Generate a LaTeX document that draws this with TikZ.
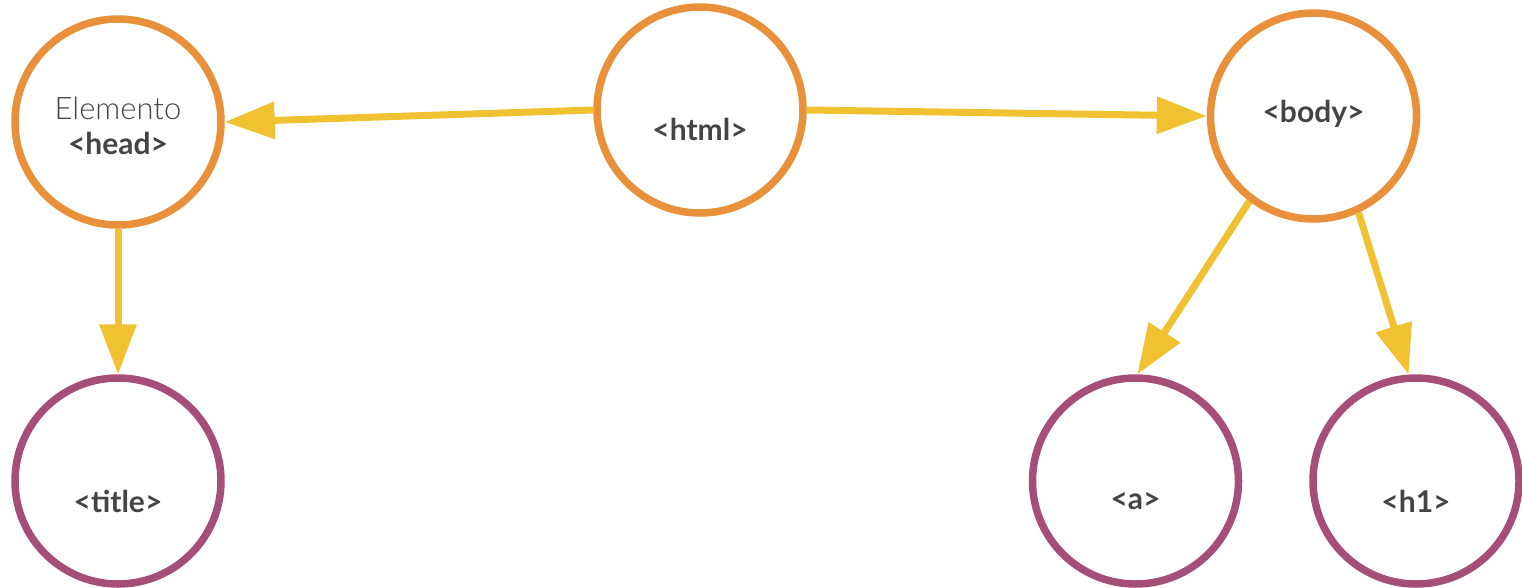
\documentclass[tikz,border=0pt]{standalone}
\usepackage{fontspec}
\setmainfont{Lato}
\newfontfamily\lightfont{Lato Light}
\usetikzlibrary{arrows.meta}
\definecolor{orangec}{HTML}{E8913A}
\definecolor{purplec}{HTML}{A54E78}
\definecolor{yellowc}{HTML}{F0C232}
\definecolor{textc}{HTML}{444444}
\begin{document}
\begin{tikzpicture}[x=1pt,y=-1pt,
  circ/.style={circle, line width=7.5pt, minimum size=206pt, inner sep=0pt},
  topc/.style={circ, draw=orangec},
  leafc/.style={circ, draw=purplec},
  lbl/.style={text=textc, inner sep=0pt, font=\fontsize{30}{34}\selectfont\bfseries},
  lbllight/.style={text=textc, inner sep=0pt, font=\fontsize{31}{34}\selectfont\lightfont},
  arr/.style={draw=yellowc, line width=7pt, -{Triangle[length=50pt,width=36pt]}}]
\useasboundingbox (0,0) rectangle (1522,587);
\node[topc] (head) at (118,122) {};
\node[topc] (html) at (700,110) {};
\node[topc] (body) at (1313.5,116) {};
\node[leafc] (title) at (118,481) {};
\node[leafc] (a) at (1135.5,481) {};
\node[leafc] (h1) at (1416,481) {};
\node[lbllight] (headT1) at (118,108) {Elemento};
\node[lbl] (headT2) at (118,143) {<head>};
\node[lbl] (htmlT) at (700,129) {<html>};
\node[lbl] (bodyT) at (1313.5,114) {<body>};
\node[lbl] (titleT) at (118,501) {<title>};
\node[lbl] (aT) at (1135.5,501) {<a>};
\node[lbl] (h1T) at (1416,501) {<h1>};
\draw[arr] (html.west) -- (head.east);
\draw[arr] (html.east) -- (body.west);
\draw[arr] (head.south) -- (title.north);
\draw[arr] (body.233.6) -- (a.89);
\draw[arr] (body.295) -- (h1.94);
\end{tikzpicture}
\end{document}
